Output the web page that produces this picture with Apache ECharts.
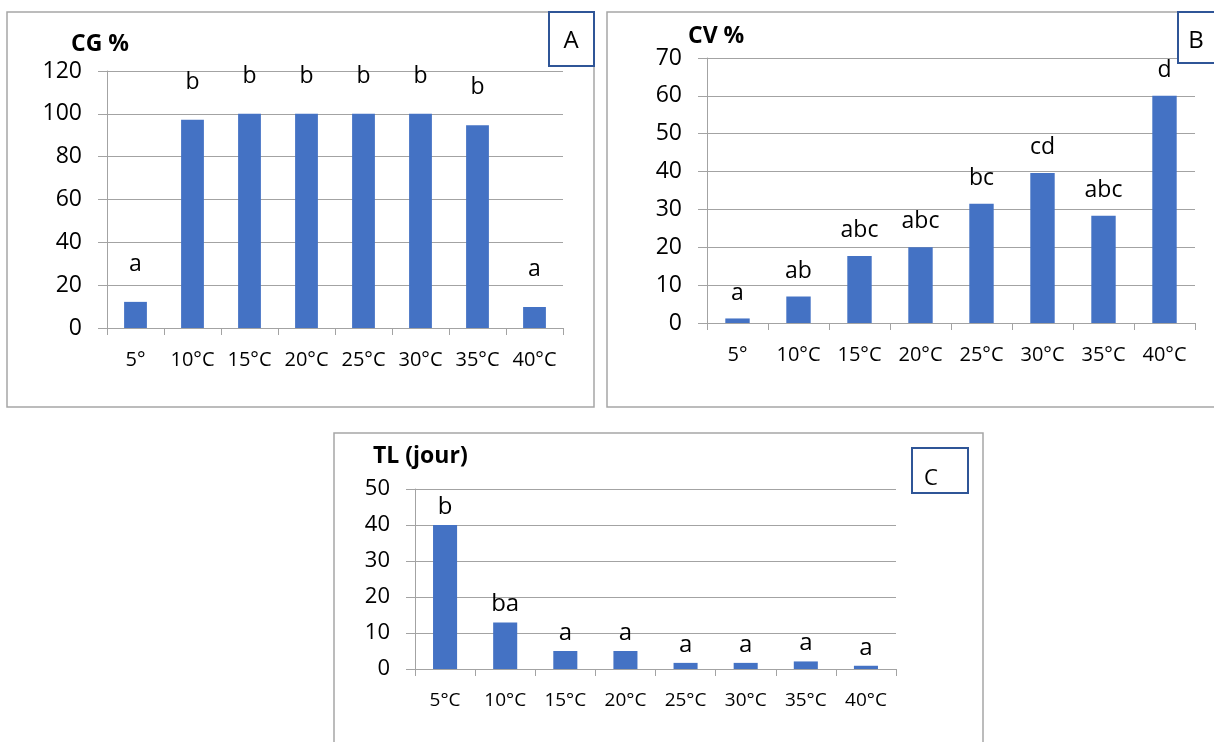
<!DOCTYPE html>
<html>
<head>
<meta charset="utf-8">
<script src="https://cdn.jsdelivr.net/npm/echarts@6/dist/echarts.min.js"></script>
<style>
html,body{margin:0;padding:0;background:#fff;}
#chart{width:1214px;height:742px;}
</style>
</head>
<body>
<div id="chart"></div>
<script>
// ---- data ----
const categoriesCG = ['5°', '10°C', '15°C', '20°C', '25°C', '30°C', '35°C', '40°C'];
const valuesCG = [12.2, 97.2, 100, 100, 100, 100, 94.7, 9.8];
const lettersCG = ['a', 'b', 'b', 'b', 'b', 'b', 'b', 'a'];

const categoriesCV = ['5°', '10°C', '15°C', '20°C', '25°C', '30°C', '35°C', '40°C'];
const valuesCV = [1.2, 7.0, 17.7, 20.0, 31.5, 39.6, 28.3, 60];
const lettersCV = ['a', 'ab', 'abc', 'abc', 'bc', 'cd', 'abc', 'd'];

const categoriesTL = ['5°C', '10°C', '15°C', '20°C', '25°C', '30°C', '35°C', '40°C'];
const valuesTL = [40, 12.9, 5.0, 5.0, 1.7, 1.7, 2.1, 0.9];
const lettersTL = ['b', 'ba', 'a', 'a', 'a', 'a', 'a', 'a'];

const axisCG = { min: 0, max: 120, interval: 20 };
const axisCV = { min: 0, max: 70, interval: 10 };
const axisTL = { min: 0, max: 50, interval: 10 };

const titleCG = 'CG %';
const titleCV = 'CV %';
const titleTL = 'TL (jour)';
const panelLetters = ['A', 'B', 'C'];

// ---- styling ----
const FONT = '"Open Sans", "Noto Sans", sans-serif';
const GRID_COLOR = '#a3a3a3';
const BAR_COLOR = '#4472C4';
const BOX_COLOR = '#2F5597';

function xAxis(idx, cats, fs, margin) {
  return {
    type: 'category', gridIndex: idx, data: cats,
    axisLine: { lineStyle: { color: GRID_COLOR, width: 1 } },
    axisTick: { show: true, length: 7, lineStyle: { color: GRID_COLOR } },
    axisLabel: { color: '#000', fontFamily: FONT, fontSize: fs, margin: margin, interval: 0, hideOverlap: false }
  };
}
function yAxis(idx, ax, fs) {
  return {
    type: 'value', gridIndex: idx, min: ax.min, max: ax.max, interval: ax.interval,
    axisLine: { show: true, lineStyle: { color: GRID_COLOR, width: 1 } },
    axisTick: { show: true, length: 9, lineStyle: { color: GRID_COLOR } },
    splitLine: { show: true, lineStyle: { color: GRID_COLOR, width: 1 } },
    axisLabel: { color: '#000', fontFamily: FONT, fontSize: fs, margin: 25 }
  };
}
function barSeries(idx, vals, letters, dist, fs) {
  return {
    type: 'bar', xAxisIndex: idx, yAxisIndex: idx,
    data: vals, barCategoryGap: '60%',
    itemStyle: { color: BAR_COLOR },
    label: {
      show: true, position: 'top', distance: dist,
      color: '#000', fontFamily: FONT, fontSize: fs,
      formatter: p => letters[p.dataIndex]
    },
    silent: true, animation: false
  };
}

function panelBox(x, y, w, h, letter, lx, ly, fs) {
  return [
    { type: 'rect', shape: { x: x, y: y, width: w, height: h }, z: 100,
      style: { fill: '#fff', stroke: BOX_COLOR, lineWidth: 2 } },
    { type: 'text', x: lx, y: ly, z: 101,
      style: { text: letter, fill: '#000', font: fs + 'px ' + FONT, align: 'center', verticalAlign: 'middle' } }
  ];
}

const titleStyle = { fontFamily: FONT, fontWeight: 'bold', fontSize: 23, color: '#000' };

const option = {
  animation: false,
  backgroundColor: '#fff',
  title: [
    { text: titleCG, left: 66, top: 28, textStyle: titleStyle },
    { text: titleCV, left: 683, top: 20, textStyle: titleStyle },
    { text: titleTL, left: 368, top: 440, textStyle: titleStyle }
  ],
  grid: [
    { left: 107, top: 71, width: 456, height: 257 },
    { left: 707, top: 58, width: 488, height: 265 },
    { left: 415, top: 489, width: 481, height: 180 }
  ],
  xAxis: [xAxis(0, categoriesCG, 20, 22), xAxis(1, categoriesCV, 20, 22), xAxis(2, categoriesTL, 19, 22)],
  yAxis: [yAxis(0, axisCG, 23), yAxis(1, axisCV, 23), yAxis(2, axisTL, 22)],
  series: [
    barSeries(0, valuesCG, lettersCG, 26, 23),
    barSeries(1, valuesCV, lettersCV, 14, 23),
    barSeries(2, valuesTL, lettersTL, 6, 24)
  ],
  graphic: [
    { type: 'rect', shape: { x: 7, y: 12, width: 587, height: 395 }, z: 1,
      style: { fill: 'none', stroke: '#a6a6a6', lineWidth: 1.5 } },
    { type: 'rect', shape: { x: 607, y: 12, width: 640, height: 395 }, z: 1,
      style: { fill: 'none', stroke: '#a6a6a6', lineWidth: 1.5 } },
    { type: 'rect', shape: { x: 334, y: 433, width: 649, height: 340 }, z: 1,
      style: { fill: 'none', stroke: '#a6a6a6', lineWidth: 1.5 } }
  ].concat(
    panelBox(549, 12, 45, 54, panelLetters[0], 571, 41, 24),
    panelBox(1178, 12, 50, 51, panelLetters[1], 1196, 41, 24),
    panelBox(912, 448, 56, 45, panelLetters[2], 931, 479, 22)
  )
};

const chart = echarts.init(document.getElementById('chart'), null, { renderer: 'canvas' });
chart.setOption(option);
</script>
</body>
</html>
